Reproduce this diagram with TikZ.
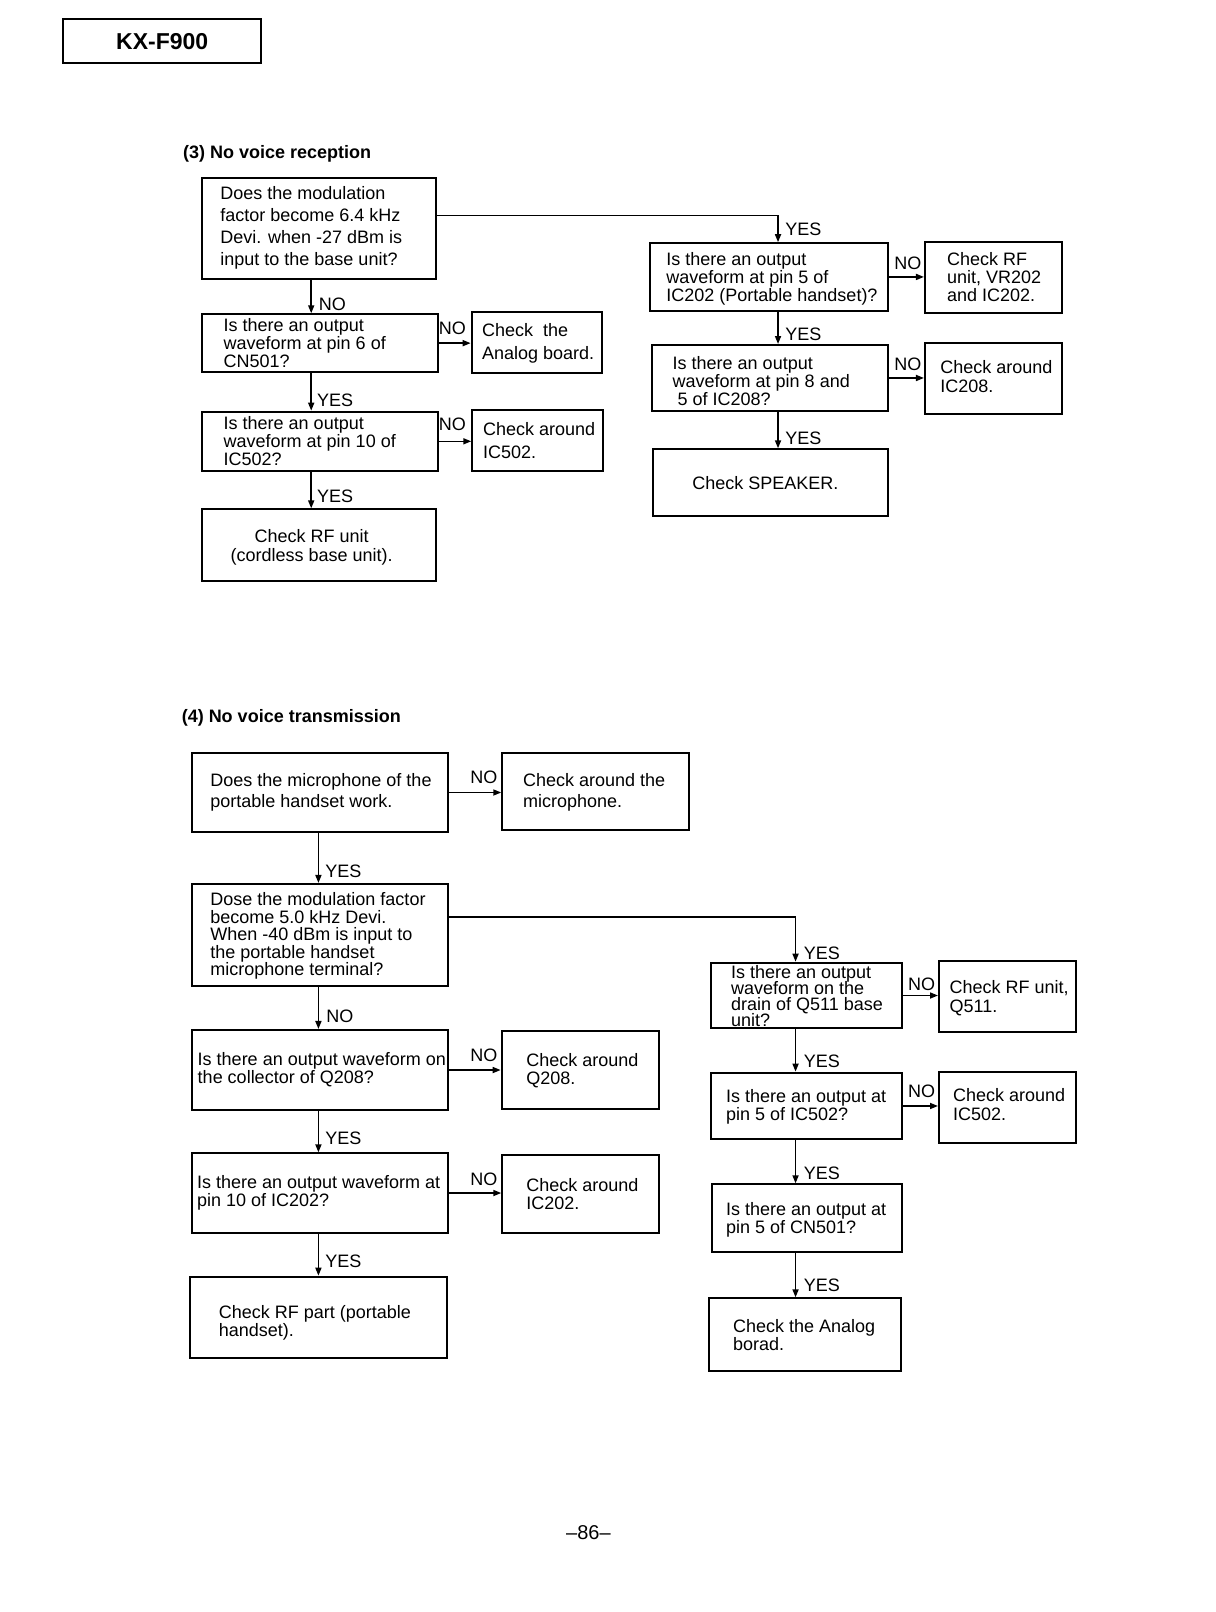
\documentclass[tikz,border=0pt]{standalone}
\usepackage{fontspec}
\setmainfont{Liberation Sans}
\usepackage{tikz}
\usetikzlibrary{arrows.meta,fit}
\newcommand{\tightlines}{\lineskiplimit -10pt\relax}
\tikzstyle{qbox} = [draw, rectangle, inner sep=0pt, line width=1pt]
% multi-line text: anchored at the baseline of its last line
\tikzstyle{txt} = [anchor=base west, align=left, inner sep=0pt, font=\fontsize{9}{9}\selectfont]
\tikzstyle{loose} = [font=\fontsize{9}{11.1}\selectfont]
\tikzstyle{tight} = [font=\fontsize{9}{8}\selectfont\tightlines]
\tikzstyle{mid} = [font=\fontsize{9}{9.7}\selectfont]
\tikzstyle{lbl} = [anchor=base west, inner sep=0pt, font=\fontsize{9}{9}\selectfont]
\tikzstyle{arrow} = [line width=0.8pt, -{Triangle[length=4pt,width=3pt]}]
\tikzstyle{line} = [line width=0.8pt]
\begin{document}
\begin{tikzpicture}[x=0.51525pt, y=-0.51525pt]
\fill[white] (0,0) rectangle (1180,1564.3);
\useasboundingbox (0,0) rectangle (1180,1564.3);

% header and titles
\node (header) [qbox, fit={(61.5,18.8) (253.3,61.5)}] {};
\node (headertxt) [anchor=base, inner sep=0pt, font=\fontsize{11.5}{12}\selectfont\bfseries] at (157.4,47.9) {KX-F900};
\node (title3) [lbl, font=\fontsize{9}{9}\selectfont\bfseries] at (177.3,153.6) {(3) No voice reception};
\node (title4) [lbl, font=\fontsize{9}{9}\selectfont\bfseries] at (176,701.5) {(4) No voice transmission};
\node (page) [anchor=base, inner sep=0pt, font=\fontsize{10}{10}\selectfont] at (571,1494) {\textendash86\textendash};

\coordinate (col3l) at (302,0);
\coordinate (yes3) at (755,209);
\coordinate (col4l) at (309,0);
\coordinate (yes4) at (772,890);

% (3) no voice reception
\node (mod3) [qbox, fit={(195.7,173) (423,271)}] {};
\node (mod3txt) [txt, loose] at (213.5,258.1) {Does the modulation\\factor become 6.4 kHz\\Devi. when -27 dBm is\\input to the base unit?};
\node (cn501) [qbox, fit={(196,305) (425,361)}] {};
\node (cn501txt) [txt] at (216.7,356.9) {Is there an output\\waveform at pin 6 of\\CN501?};
\node (analog3) [qbox, fit={(457.7,303) (583.9,361.7)}] {};
\node (analog3txt) [txt, loose] at (467.4,348.5) {Check~ the\\Analog board.};
\node (ic502) [qbox, fit={(195.7,399.5) (424.7,457)}] {};
\node (ic502txt) [txt] at (216.7,451.9) {Is there an output\\waveform at pin 10 of\\IC502?};
\node (around502) [qbox, fit={(458.3,397.9) (584.8,457)}] {};
\node (around502txt) [txt, font=\fontsize{9}{11.5}\selectfont] at (468.4,445.3) {Check around\\IC502.};
\node (rfbase) [qbox, fit={(195.7,494.3) (423,564)}] {};
\node (rfbasetxt) [txt, anchor=base, align=center, mid] at (302.5,544.8) {Check RF unit\\(cordless base unit).};

\node (ic202) [qbox, fit={(630.8,236) (862,301.5)}] {};
\node (ic202txt) [txt] at (646.3,292.9) {Is there an output\\waveform at pin 5 of\\IC202 (Portable handset)?};
\node (rfvr) [qbox, fit={(897.6,234.5) (1030.9,304)}] {};
\node (rfvrtxt) [txt] at (918.6,292.9) {Check RF\\unit, VR202\\and IC202.};
\node (ic208) [qbox, fit={(632.4,334.8) (862,398.8)}] {};
\node (ic208txt) [txt] at (652.4,393.5) {Is there an output\\waveform at pin 8 and\\\hspace*{2.5pt}5 of IC208?};
\node (around208) [qbox, fit={(897.6,333.2) (1030.9,401.7)}] {};
\node (around208txt) [txt, mid] at (912.2,380.8) {Check around\\IC208.};
\node (speaker) [qbox, fit={(634,436) (862,500.4)}] {};
\node (speakertxt) [txt, anchor=base] at (742.8,475) {Check SPEAKER.};

\draw [arrow] (mod3.south -| col3l) -- (cn501.north -| col3l);
\draw [arrow] (cn501.south -| col3l) -- (ic502.north -| col3l);
\draw [arrow] (ic502.south -| col3l) -- (rfbase.north -| col3l);
\draw [arrow] (cn501.east) -- (cn501.east -| analog3.west);
\draw [arrow] (ic502.east) -- (ic502.east -| around502.west);
\draw [arrow] (mod3.east |- yes3) -- (yes3) -- (ic202.north -| yes3);
\draw [arrow] (ic202.east) -- (ic202.east -| rfvr.west);
\draw [arrow] (ic202.south -| yes3) -- (ic208.north -| yes3);
\draw [arrow] (ic208.east) -- (ic208.east -| around208.west);
\draw [arrow] (ic208.south -| yes3) -- (speaker.north -| yes3);

\node (mod3no) [lbl] at (309,301) {NO};
\node (cn501yes) [lbl] at (307.3,394) {YES};
\node (ic502yes) [lbl] at (307.3,488) {YES};
\node (cn501no) [lbl] at (425.4,325) {NO};
\node (ic502no) [lbl] at (425.4,418) {NO};
\node (mod3yes) [lbl] at (761.8,228.5) {YES};
\node (ic202no) [lbl] at (867.5,262) {NO};
\node (ic202yes) [lbl] at (761.8,330) {YES};
\node (ic208no) [lbl] at (867.5,360) {NO};
\node (ic208yes) [lbl] at (761.8,431) {YES};

% (4) no voice transmission
\node (mic) [qbox, fit={(186,730.4) (434.4,807.7)}] {};
\node (mictxt) [txt, font=\fontsize{9}{10.8}\selectfont] at (203.8,784) {Does the microphone of the\\portable handset work.};
\node (aroundmic) [qbox, fit={(487.4,731) (668.6,805.4)}] {};
\node (aroundmictxt) [txt, font=\fontsize{9}{10.8}\selectfont] at (507.2,784) {Check around the\\microphone.};
\node (mod4) [qbox, fit={(186,857.8) (434.4,956.8)}] {};
\node (mod4txt) [txt, font=\fontsize{9}{8.8}\selectfont] at (203.8,947) {Dose the modulation factor\\become 5.0 kHz Devi.\\When -40 dBm is input to\\the portable handset\\microphone terminal?};
\node (q208) [qbox, fit={(186,999.5) (434.4,1077.2)}] {};
\node (q208txt) [txt] at (191.5,1051.5) {Is there an output waveform on\\the collector of Q208?};
\node (aroundq208) [qbox, fit={(486.8,1000.2) (639.8,1076.2)}] {};
\node (aroundq208txt) [txt] at (510.4,1052.1) {Check around\\Q208.};
\node (ic202t) [qbox, fit={(186.6,1119.2) (434.4,1196.2)}] {};
\node (ic202ttxt) [txt] at (190.9,1171.2) {Is there an output waveform at\\pin 10 of IC202?};
\node (aroundic202) [qbox, fit={(487.4,1120.8) (639.8,1196.8)}] {};
\node (aroundic202txt) [txt] at (510.4,1173.5) {Check around\\IC202.};
\node (rfpart) [qbox, fit={(184.4,1238.9) (433.5,1318.1)}] {};
\node (rfparttxt) [txt] at (211.9,1297.3) {Check RF part (portable\\handset).};

\node (q511) [qbox, fit={(690,934.2) (875,997.9)}] {};
\node (q511txt) [txt, tight] at (709,996.5) {Is there an output\\waveform on the\\drain of Q511 base\\unit?};
\node (rfq511) [qbox, fit={(911.2,932.2) (1044.2,1001.1)}] {};
\node (rfq511txt) [txt, mid] at (921.2,982.8) {Check RF unit,\\Q511.};
\node (ic502t) [qbox, fit={(690,1040.9) (875,1105.6)}] {};
\node (ic502ttxt) [txt] at (704.2,1087.5) {Is there an output at\\pin 5 of IC502?};
\node (aroundic502) [qbox, fit={(911.2,1040) (1044.2,1108.9)}] {};
\node (aroundic502txt) [txt, mid] at (924.5,1087.4) {Check around\\IC502.};
\node (cn501t) [qbox, fit={(690.6,1149.3) (875.6,1214.6)}] {};
\node (cn501ttxt) [txt] at (704.2,1197) {Is there an output at\\pin 5 of CN501?};
\node (analog4) [qbox, fit={(688.3,1259.9) (874,1330)}] {};
\node (analog4txt) [txt] at (711,1310.3) {Check the Analog\\borad.};

\draw [arrow] (mic.east) -- (mic.east -| aroundmic.west);
\draw [arrow] (mic.south -| col4l) -- (mod4.north -| col4l);
\draw [arrow] (mod4.south -| col4l) -- (q208.north -| col4l);
\draw [arrow] (q208.east) -- (q208.east -| aroundq208.west);
\draw [arrow] (q208.south -| col4l) -- (ic202t.north -| col4l);
\draw [arrow] (ic202t.east) -- (ic202t.east -| aroundic202.west);
\draw [arrow] (ic202t.south -| col4l) -- (rfpart.north -| col4l);
\draw [arrow] (mod4.east |- yes4) -- (yes4) -- (q511.north -| yes4);
\draw [arrow] (q511.east) -- (q511.east -| rfq511.west);
\draw [arrow] (q511.south -| yes4) -- (ic502t.north -| yes4);
\draw [arrow] (ic502t.east) -- (ic502t.east -| aroundic502.west);
\draw [arrow] (ic502t.south -| yes4) -- (cn501t.north -| yes4);
\draw [arrow] (cn501t.south -| yes4) -- (analog4.north -| yes4);

\node (micno) [lbl] at (456.1,760) {NO};
\node (micyes) [lbl] at (315.4,852) {YES};
\node (mod4no) [lbl] at (316.3,992.6) {NO};
\node (q208no) [lbl] at (456.1,1030) {NO};
\node (q208yes) [lbl] at (315.4,1110.6) {YES};
\node (ic202tno) [lbl] at (456.1,1150.4) {NO};
\node (ic202tyes) [lbl] at (315.4,1230.3) {YES};
\node (mod4yes) [lbl] at (779.6,931) {YES};
\node (q511no) [lbl] at (880.8,961) {NO};
\node (q511yes) [lbl] at (779.6,1036) {YES};
\node (ic502tno) [lbl] at (880.8,1065) {NO};
\node (ic502tyes) [lbl] at (779.6,1144.6) {YES};
\node (cn501tyes) [lbl] at (779.6,1253) {YES};
\end{tikzpicture}
\end{document}
